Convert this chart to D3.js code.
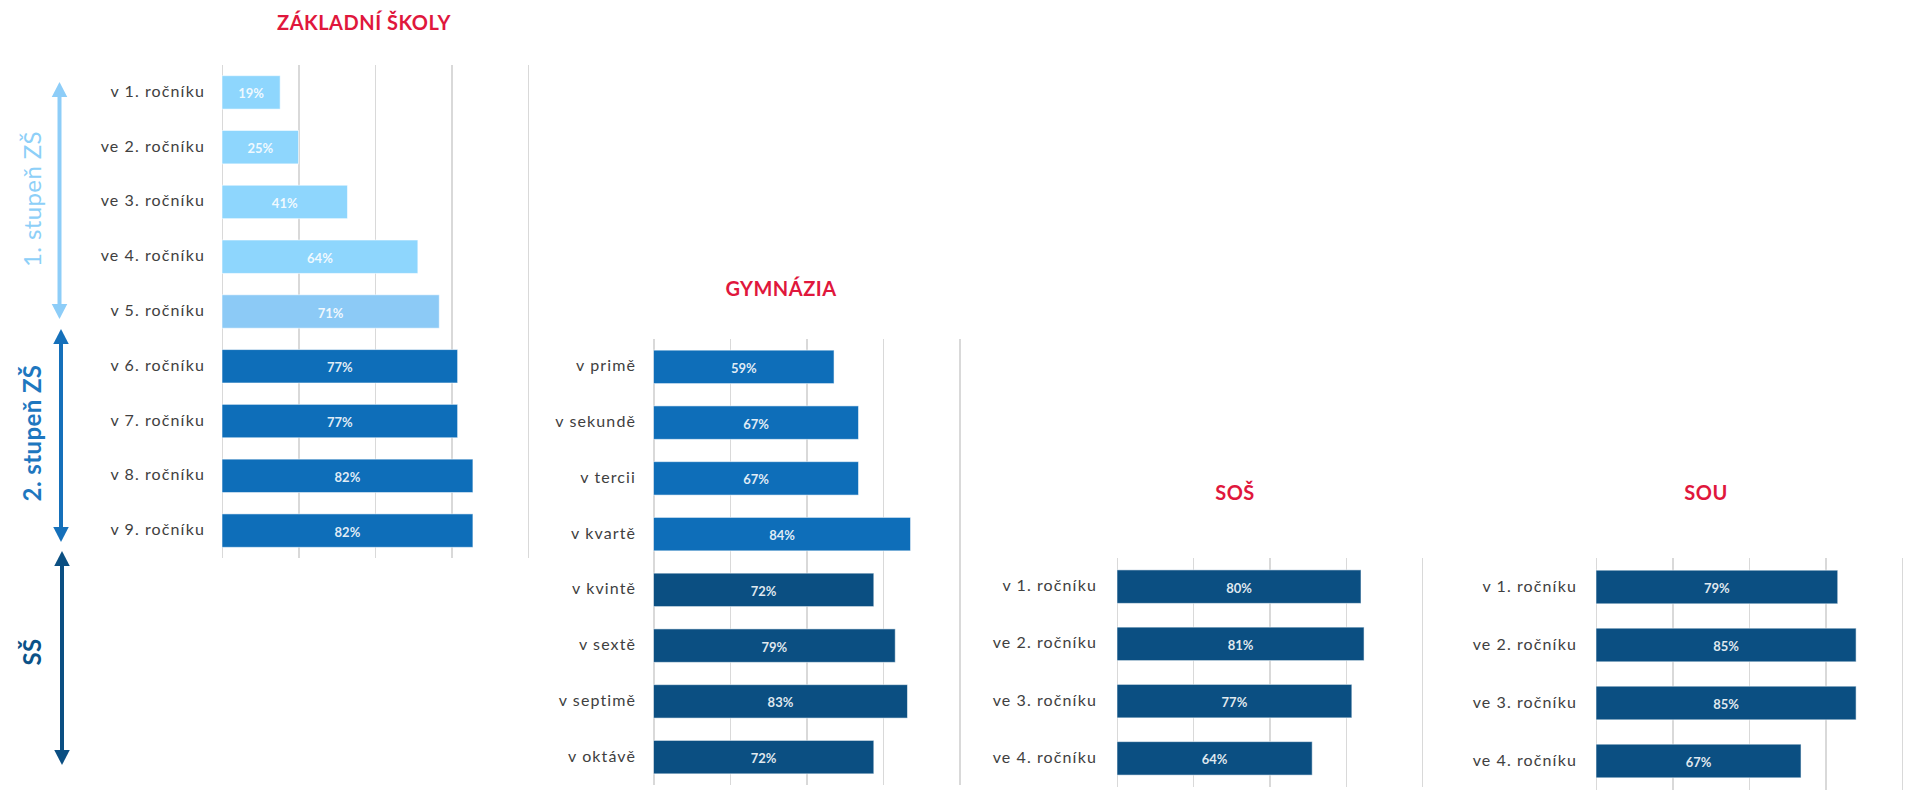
<!DOCTYPE html>
<html lang="cs">
<head>
<meta charset="utf-8">
<script src="https://cdn.jsdelivr.net/npm/d3@7/dist/d3.min.js"></script>
<style>
  html, body { margin: 0; padding: 0; background: #ffffff; }
  svg { display: block; font-family: Lato, "Noto Sans", sans-serif; }
</style>
</head>
<body>
<svg id="chart" width="1906" height="793"></svg>
<script>
// ---- data ----
const zsCategories = ["v 1. ročníku", "ve 2. ročníku", "ve 3. ročníku", "ve 4. ročníku", "v 5. ročníku",
                      "v 6. ročníku", "v 7. ročníku", "v 8. ročníku", "v 9. ročníku"];
const zsValues = [19, 25, 41, 64, 71, 77, 77, 82, 82];
const zsStages = ["1. stupeň ZŠ", "1. stupeň ZŠ", "1. stupeň ZŠ", "1. stupeň ZŠ", "1. stupeň ZŠ",
                  "2. stupeň ZŠ", "2. stupeň ZŠ", "2. stupeň ZŠ", "2. stupeň ZŠ"];

const gymCategories = ["v primě", "v sekundě", "v tercii", "v kvartě", "v kvintě", "v sextě", "v septimě", "v oktávě"];
const gymValues = [59, 67, 67, 84, 72, 79, 83, 72];
const gymStages = ["2. stupeň ZŠ", "2. stupeň ZŠ", "2. stupeň ZŠ", "2. stupeň ZŠ", "SŠ", "SŠ", "SŠ", "SŠ"];

const sosCategories = ["v 1. ročníku", "ve 2. ročníku", "ve 3. ročníku", "ve 4. ročníku"];
const sosValues = [80, 81, 77, 64];
const sosStages = ["SŠ", "SŠ", "SŠ", "SŠ"];

const souCategories = ["v 1. ročníku", "ve 2. ročníku", "ve 3. ročníku", "ve 4. ročníku"];
const souValues = [79, 85, 85, 67];
const souStages = ["SŠ", "SŠ", "SŠ", "SŠ"];

const panelTitles = ["ZÁKLADNÍ ŠKOLY", "GYMNÁZIA", "SOŠ", "SOU"];
const stageLabels = ["1. stupeň ZŠ", "2. stupeň ZŠ", "SŠ"];
const gridTicks = [0, 25, 50, 75, 100];

// ---- styles ----
const stageColor = d3.scaleOrdinal()
  .domain(stageLabels)
  .range(["#8ED6FD", "#0E6EB9", "#0B4F82"]);
const stageTextColor = d3.scaleOrdinal()
  .domain(stageLabels)
  .range(["#8DCFF8", "#1E77BF", "#0B5288"]);
const stageArrowColor = d3.scaleOrdinal()
  .domain(stageLabels)
  .range(["#8DCDF8", "#1570BA", "#0B4F82"]);
const titleColor = "#E0173C";
const labelColor = "#404040";
const gridColor = "#D9D9D9";

const svg = d3.select("#chart");

// one small chart per school type
const panels = [
  { title: panelTitles[0], cats: zsCategories, vals: zsValues, stages: zsStages,
    x0: 222, x1: 528, y0: 65, y1: 558, pad: 0.39, titleX: 364, titleY: 22, labelX: 205 },
  { title: panelTitles[1], cats: gymCategories, vals: gymValues, stages: gymStages,
    x0: 653.5, x1: 959.5, y0: 339, y1: 785, pad: 0.4, titleX: 781, titleY: 288, labelX: 636 },
  { title: panelTitles[2], cats: sosCategories, vals: sosValues, stages: sosStages,
    x0: 1117, x1: 1422, y0: 558, y1: 787, pad: 0.415, titleX: 1235, titleY: 492, labelX: 1097 },
  { title: panelTitles[3], cats: souCategories, vals: souValues, stages: souStages,
    x0: 1596, x1: 1902, y0: 558, y1: 790, pad: 0.42, titleX: 1706, titleY: 492, labelX: 1577 }
];

panels.forEach(p => {
  const x = d3.scaleLinear().domain([0, 100]).range([p.x0, p.x1]);
  const y = d3.scaleBand().domain(p.cats).range([p.y0, p.y1]).paddingInner(p.pad).paddingOuter(p.pad / 2);
  const g = svg.append("g");

  // vertical gridlines
  const axis = d3.axisBottom(x).tickValues(gridTicks).tickSize(-(p.y1 - p.y0)).tickFormat("");
  const ag = g.append("g").attr("transform", `translate(0,${p.y1})`).call(axis);
  ag.select(".domain").remove();
  ag.selectAll(".tick line").attr("stroke", gridColor).attr("stroke-width", 1.2)
    .attr("shape-rendering", "crispEdges");

  // title
  g.append("text")
    .attr("x", p.titleX).attr("y", p.titleY)
    .attr("text-anchor", "middle").attr("dominant-baseline", "central")
    .attr("font-size", 20).attr("font-weight", 700).attr("letter-spacing", 0.5)
    .attr("fill", titleColor)
    .text(p.title);

  const rows = p.cats.map((c, i) => ({ cat: c, val: p.vals[i], stage: p.stages[i] }));

  // bars
  g.selectAll("rect.bar").data(rows).join("rect")
    .attr("class", "bar")
    .attr("x", x(0))
    .attr("y", d => y(d.cat))
    .attr("width", d => x(d.val) - x(0))
    .attr("height", y.bandwidth())
    .attr("fill", d => (d.cat === "v 5. ročníku" && p.cats === zsCategories) ? "#8CCAF6" : stageColor(d.stage))
    .attr("stroke", "rgba(255,255,255,0.55)").attr("stroke-width", 1);

  // value labels inside bars
  g.selectAll("text.val").data(rows).join("text")
    .attr("class", "val")
    .attr("x", d => (x(0) + x(d.val)) / 2)
    .attr("y", d => y(d.cat) + y.bandwidth() / 2 + 1)
    .attr("text-anchor", "middle").attr("dominant-baseline", "central")
    .attr("font-size", 13).attr("font-weight", 700)
    .attr("fill", "#FFFFFF").attr("fill-opacity", 0.88)
    .text(d => d.val + "%");

  // category labels
  g.selectAll("text.cat").data(rows).join("text")
    .attr("class", "cat")
    .attr("x", p.labelX)
    .attr("y", d => y(d.cat) + y.bandwidth() / 2 - 2)
    .attr("text-anchor", "end").attr("dominant-baseline", "central")
    .attr("font-size", 16).attr("letter-spacing", 1.1)
    .attr("fill", labelColor)
    .text(d => d.cat);
});

// stage brackets on the left: double-headed arrows with rotated captions
const brackets = [
  { label: stageLabels[0], x: 59.5, top: 82, bottom: 319, textY: 199, weight: 400 },
  { label: stageLabels[1], x: 61, top: 329, bottom: 542, textY: 433, weight: 700 },
  { label: stageLabels[2], x: 62, top: 551, bottom: 765, textY: 652, weight: 700 }
];
const headLen = 15, headHalf = 7.75;
brackets.forEach(b => {
  const col = stageArrowColor(b.label);
  svg.append("line")
    .attr("x1", b.x).attr("x2", b.x).attr("y1", b.top + headLen - 2).attr("y2", b.bottom - headLen + 2)
    .attr("stroke", col).attr("stroke-width", 4);
  svg.append("path")
    .attr("d", `M${b.x},${b.top} L${b.x - headHalf},${b.top + headLen} L${b.x + headHalf},${b.top + headLen} Z`)
    .attr("fill", col);
  svg.append("path")
    .attr("d", `M${b.x},${b.bottom} L${b.x - headHalf},${b.bottom - headLen} L${b.x + headHalf},${b.bottom - headLen} Z`)
    .attr("fill", col);
  svg.append("text")
    .attr("transform", `translate(31,${b.textY}) rotate(-90)`)
    .attr("text-anchor", "middle").attr("dominant-baseline", "central")
    .attr("font-size", 24).attr("font-weight", b.weight).attr("letter-spacing", 0.4)
    .attr("fill", stageTextColor(b.label))
    .text(b.label);
});
</script>
</body>
</html>
